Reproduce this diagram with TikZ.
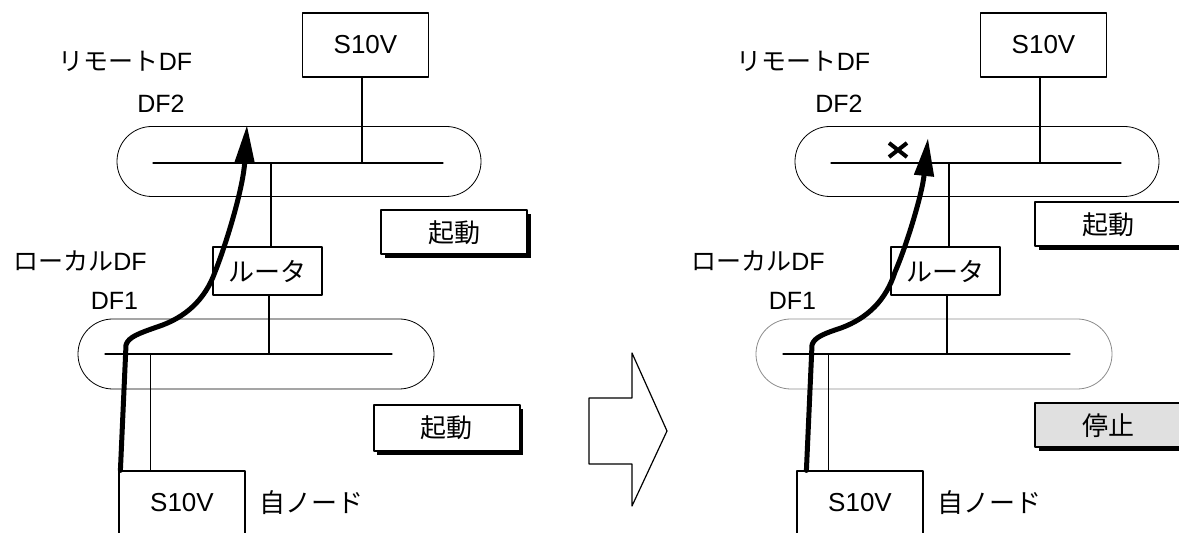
\documentclass[tikz,border=0pt]{standalone}
\usepackage{fontspec}
\setmainfont{Liberation Sans}
\newfontfamily\jp{Noto Sans CJK JP}
\usetikzlibrary{arrows.meta,shadows}

\tikzset{
  unit/.style={draw, line width=0.6pt, fill=white, minimum width=63pt, minimum height=32pt, inner sep=0pt, font={\fontsize{13}{15}\selectfont}},
  ring/.style={draw, line width=0.4pt, rounded corners=17.4pt, minimum height=35pt, inner sep=0pt},
  wire/.style={line width=0.6pt},
  status/.style={draw, line width=1pt, fill=white, minimum width=73pt, minimum height=22pt, inner sep=0pt, font={\jp\fontsize{13}{15}\selectfont}, drop shadow={shadow xshift=1.8pt, shadow yshift=-1.8pt, fill=black, opacity=1}},
  tag/.style={inner sep=0pt, font={\fontsize{12.5}{14}\selectfont}},
  flow/.style={line width=2.5pt, -{Triangle[length=19pt, width=9.5pt]}},
}

\begin{document}
\begin{tikzpicture}[x=0.5pt, y=-0.5pt, line cap=round, line join=round]
\useasboundingbox (0,0) rectangle (1179,533);
\clip (0,0) rectangle (1179,533);

\foreach \p/\dx/\col in {L/0/black, R/678/black!45}{
  \begin{scope}[shift={(\dx,0)}]
    \node[unit] (top\p) at (365.5,45) {S10V};
    \node[ring, minimum width=182pt] (df2\p) at (299,161.5) {};
    \node[ring, minimum width=178pt, draw=\col] (df1\p) at (256,354) {};
    \coordinate (b2w\p) at (153,163);
    \coordinate (b2e\p) at (443,163);
    \coordinate (b1w\p) at (105,354);
    \coordinate (b1e\p) at (392,354);
    \node[unit, minimum width=54.5pt, minimum height=24pt, font={\jp\fontsize{13}{15}\selectfont}] (rt\p) at (267.5,271) {ルータ};
    \node[unit] (own\p) at (182,503) {S10V};
    \node[tag, font={\jp\fontsize{13}{15}\selectfont}] (me\p) at (311,503) {自ノード};
    \node[tag] (rem\p) at (125.5,61) {{\jp リモート}DF};
    \node[tag] (df2lab\p) at (161,104) {DF2};
    \node[tag] (loc\p) at (80,261) {{\jp ローカル}DF};
    \node[tag] (df1lab\p) at (114.5,301) {DF1};
    \draw[wire] (b2w\p) -- (b2e\p);
    \draw[wire] (b1w\p) -- (b1e\p);
    \draw[wire] ([xshift=-1.75pt]top\p.south) -- ([xshift=-1.75pt]top\p.south |- b2w\p);
    \draw[wire] ([xshift=1.75pt]rt\p.north) -- ([xshift=1.75pt]rt\p.north |- b2w\p);
    \draw[wire] ([xshift=0.75pt]rt\p.south) -- ([xshift=0.75pt]rt\p.south |- b1w\p);
    \draw[wire] ([xshift=16pt]own\p.north west) -- ([xshift=16pt]own\p.north west |- b1w\p);
  \end{scope}
}

\coordinate (tipL) at (247,125);
\coordinate (tipR) at (928,138);
\draw[flow] ([xshift=1pt]ownL.north west) -- (126,345) .. controls (128,337) and (140,333) .. (157,327)
  .. controls (185,318) and (205,300) .. (215,272) .. controls (225,247) and (243,190) .. (tipL);
\draw[flow] ([xshift=5pt]ownR.north west) -- (812,345) .. controls (814,337) and (826,333) .. (841,328)
  .. controls (868,318) and (886,300) .. (895,272) .. controls (906,247) and (922,195) .. (tipR);

\coordinate (fail) at (898,150);
\draw[line width=2pt, line cap=butt] ([shift={(-9,-7)}]fail) -- ([shift={(9,7)}]fail)
  ([shift={(-9,7)}]fail) -- ([shift={(9,-7)}]fail);

\node[status] (runL1) at (454,232.5) {起動};
\node[status, minimum height=23pt] (runL2) at (446.5,428) {起動};
\node[status] (runR1) at (1108,224.5) {起動};
\node[status, fill=black!12] (stopR) at (1108,425.5) {停止};

\draw[line width=0.6pt] (589,398) -- (632,398) -- (632,353) -- (667,431) -- (632,506) -- (632,464) -- (589,464) -- cycle;
\end{tikzpicture}
\end{document}
